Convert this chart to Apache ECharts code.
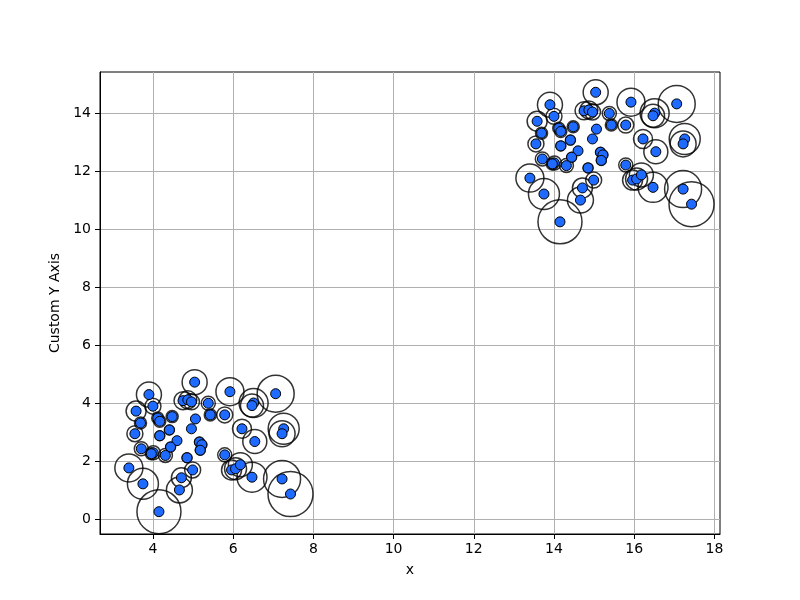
<!DOCTYPE html>
<html>
<head>
  <meta charset="UTF-8"/>
  <title>Scatter</title>
  <script src="https://cdn.jsdelivr.net/npm/echarts@6/dist/echarts.min.js"></script>
  <style>
    html, body { margin: 0; padding: 0; background: #fff; }
    #main { width: 800px; height: 600px; }
  </style>
</head>
<body>
<div id="main"></div>
<script type="text/javascript">
    // lower-left cluster
    const lowX = [5.04, 3.90, 5.92, 7.06, 4.75, 4.87, 4.96, 5.38, 4.00, 3.58,
        5.79, 5.43, 4.48, 4.12, 4.17, 5.06, 3.69, 4.96, 4.41, 4.17,
        3.55, 6.22, 4.60, 5.16, 5.22, 5.18, 4.44, 3.71, 4.01, 3.96,
        4.31, 4.85, 5.79, 6.54, 7.26, 7.22, 6.51, 6.47, 3.40, 3.75,
        4.15, 4.71, 4.66, 4.99, 5.96, 6.06, 6.18, 6.47, 7.22, 7.43]
    const lowY = [4.72, 4.29, 4.39, 4.32, 4.08, 4.11, 4.04, 3.99, 3.89, 3.72,
        3.59, 3.59, 3.53, 3.48, 3.37, 3.45, 3.31, 3.11, 3.07, 2.87,
        2.94, 3.11, 2.70, 2.65, 2.56, 2.37, 2.48, 2.42, 2.28, 2.25,
        2.19, 2.11, 2.21, 2.67, 3.11, 2.94, 4.00, 3.91, 1.76, 1.21,
        0.25, 1.42, 1.00, 1.69, 1.69, 1.73, 1.87, 1.44, 1.38, 0.86]
    // upper-right cluster
    const highX = [15.04, 13.90, 15.92, 17.06, 14.75, 14.87, 14.96, 15.38, 14.00, 13.58,
        15.79, 15.43, 14.48, 14.12, 14.17, 15.06, 13.69, 14.96, 14.41, 14.17,
        13.55, 16.22, 14.60, 15.16, 15.22, 15.18, 14.44, 13.71, 14.01, 13.96,
        14.31, 14.85, 15.79, 16.54, 17.26, 17.22, 16.51, 16.47, 13.40, 13.75,
        14.15, 14.71, 14.66, 14.99, 15.96, 16.06, 16.18, 16.47, 17.22, 17.43]
    const highY = [14.72, 14.29, 14.38, 14.32, 14.08, 14.11, 14.04, 13.99, 13.89, 13.72,
        13.59, 13.59, 13.53, 13.48, 13.37, 13.45, 13.31, 13.11, 13.07, 12.87,
        12.94, 13.11, 12.70, 12.65, 12.56, 12.37, 12.48, 12.42, 12.28, 12.25,
        12.19, 12.11, 12.21, 12.67, 13.11, 12.94, 14.00, 13.91, 11.76, 11.21,
        10.25, 11.42, 11.00, 11.69, 11.69, 11.73, 11.87, 11.44, 11.38, 10.86]
    // ring (bubble) size of every point, same order in both clusters
    const ringSize = [25, 25, 28, 37, 18, 18, 16, 14, 16, 20,
        16, 12, 12, 12, 12, 8, 12, 6, 10, 10,
        16, 19, 8, 10, 10, 10, 10, 14, 14, 12,
        14, 10, 14, 24, 31, 26, 29, 23, 28, 31,
        44, 20, 26, 16, 20, 22, 24, 30, 37, 45]
    const xTicks = [4, 6, 8, 10, 12, 14, 16, 18]
    const yTicks = [0, 2, 4, 6, 8, 10, 12, 14]

    let ringData = []
    let dotData = []
    for (let i = 0; i < lowX.length; i++) {
        ringData.push([lowX[i], lowY[i], ringSize[i]])
        dotData.push([lowX[i], lowY[i]])
    }
    for (let i = 0; i < highX.length; i++) {
        ringData.push([highX[i], highY[i], ringSize[i]])
        dotData.push([highX[i], highY[i]])
    }

    const font = 'DejaVu Sans'
    let myChart = echarts.init(document.getElementById('main'))
    let option = {
        animation: false,
        backgroundColor: '#fff',
        grid: {
            left: 100, right: 80, top: 72, bottom: 66,
            show: true,
            borderColor: '#000',
            borderWidth: 1,
            containLabel: false
        },
        xAxis: {
            type: 'value',
            min: 2.68,
            max: 18.14,
            name: 'x',
            nameLocation: 'middle',
            nameGap: 29,
            nameTextStyle: {fontFamily: font, fontSize: 14, color: '#000'},
            axisLine: {onZero: false, lineStyle: {color: '#000', width: 1}},
            axisTick: {show: true, inside: false, length: 5, customValues: xTicks,
                lineStyle: {color: '#000', width: 1}},
            axisLabel: {customValues: xTicks, margin: 8, fontFamily: font, fontSize: 14, color: '#000'},
            splitLine: {show: true, lineStyle: {color: '#b0b0b0', width: 1}}
        },
        yAxis: {
            type: 'value',
            min: -0.52,
            max: 15.42,
            name: 'Custom Y Axis',
            nameLocation: 'middle',
            nameRotate: 90,
            nameGap: 27,
            nameTextStyle: {fontFamily: font, fontSize: 14, color: '#000'},
            axisLine: {show: true, onZero: false, lineStyle: {color: '#000', width: 1}},
            axisTick: {show: true, inside: false, length: 5, customValues: yTicks,
                lineStyle: {color: '#000', width: 1}},
            axisLabel: {customValues: yTicks, margin: 9, fontFamily: font, fontSize: 14, color: '#000'},
            splitLine: {show: true, lineStyle: {color: '#b0b0b0', width: 1}}
        },
        series: [
            {
                type: 'scatter',
                data: ringData,
                symbol: 'circle',
                symbolSize: function (val) {
                    return val[2]
                },
                itemStyle: {color: 'rgba(0,0,0,0)', borderColor: '#000', borderWidth: 1.5},
                z: 2,
                silent: true
            },
            {
                type: 'scatter',
                data: dotData,
                symbol: 'circle',
                symbolSize: 10,
                itemStyle: {color: '#1f6bff', borderColor: '#000', borderWidth: 1, opacity: 1},
                z: 3,
                silent: true
            }
        ]
    };
    myChart.setOption(option);
</script>
</body>
</html>
